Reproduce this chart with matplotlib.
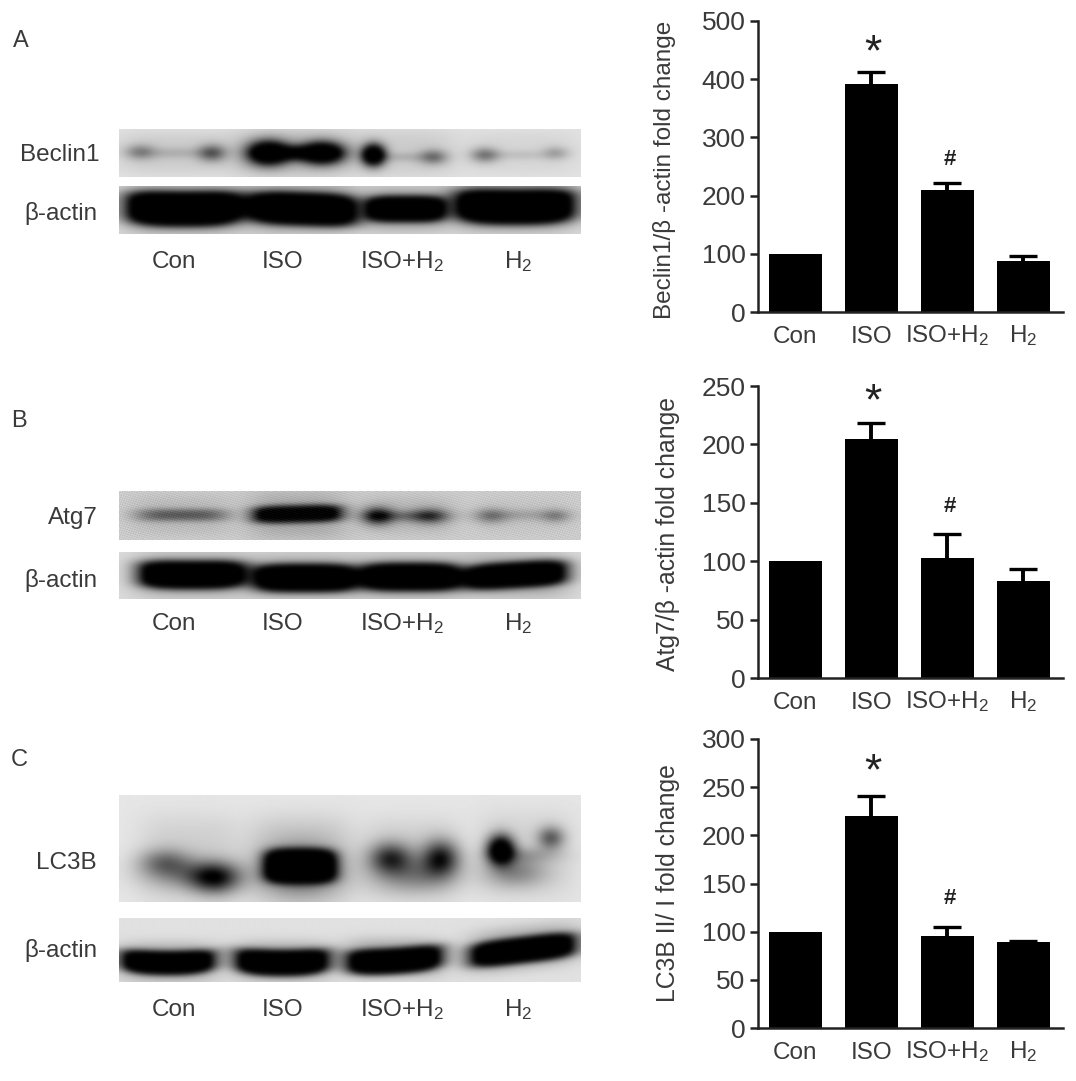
import numpy as np
import matplotlib
matplotlib.use('Agg')
import matplotlib.pyplot as plt

plt.rcParams['font.family'] = ['Liberation Sans', 'DejaVu Sans']
plt.rcParams['mathtext.fontset'] = 'custom'
plt.rcParams['mathtext.rm'] = 'Liberation Sans'
plt.rcParams['mathtext.default'] = 'regular'

W, H = 1076, 1081
INK = '#3a3a3a'

groups = ['Con', 'ISO', 'ISO+H$_2$', 'H$_2$']

beclin_mean = [100, 392, 210, 88]
beclin_err = [0, 21, 11, 8]
beclin_ticks = [0, 100, 200, 300, 400, 500]

atg7_mean = [100, 205, 103, 83]
atg7_err = [0, 13, 20, 10]
atg7_ticks = [0, 50, 100, 150, 200, 250]

lc3b_mean = [100, 220, 96, 89]
lc3b_err = [0, 21, 9, 1]
lc3b_ticks = [0, 50, 100, 150, 200, 250, 300]

# blot bands: cx, cy, half width, half height, darkness, edge power, tilt, bend
beclin_bands = [
    (175, 153, 60, 22, 0.10, 4, 0, 0), (295, 153, 62, 24, 0.18, 4, 0, 0),
    (405, 153, 50, 24, 0.10, 4, 0, 0), (520, 153, 60, 22, 0.06, 4, 0, 0),
    (140, 152, 15, 7, 0.36, 2, 0, 0), (212, 153, 14, 8, 0.55, 2, 0, 0),
    (175, 153, 32, 5, 0.15, 2, 0, 0), (268, 153, 20, 11, 1.7, 2, 0, 0),
    (322, 153, 21, 10, 1.7, 2, 0, 0), (295, 153, 22, 6, 0.8, 2, 0, 0),
    (373, 155, 11, 10, 1.7, 2, 0, 0), (433, 157, 14, 7, 0.45, 2, 0, 0),
    (402, 157, 26, 4, 0.15, 2, 0, 0), (484, 155, 14, 7, 0.45, 2, 0, 0),
    (555, 153, 13, 6, 0.25, 2, 0, 0), (520, 155, 30, 4, 0.12, 2, 0, 0),
]
actin_a_bands = [
    (184, 209, 60, 24, 0.35, 4, 0, 0), (303, 208, 56, 24, 0.35, 4, 0, 0),
    (405, 209, 42, 22, 0.30, 4, 0, 0), (514, 207, 62, 24, 0.35, 4, 0, 0),
    (184, 209, 56, 16, 1.8, 4, 0, -2), (303, 209, 52, 15, 1.8, 4, 2, 0),
    (405, 209, 37, 12, 1.8, 4, 0, 0), (514, 207, 58, 16, 1.8, 4, 0, -2),
]
atg7_bands = [
    (182, 515, 52, 20, 0.10, 4, 0, 0), (297, 515, 50, 24, 0.18, 4, 0, 0),
    (407, 515, 48, 20, 0.10, 4, 0, 0), (522, 515, 48, 20, 0.04, 4, 0, 0),
    (182, 515, 47, 6, 0.48, 4, 0, 0), (297, 514, 43, 8, 1.6, 4, -1, 0),
    (377, 516, 15, 8, 0.9, 2, 0, 0), (430, 516, 18, 7, 0.6, 2, 0, 0),
    (405, 516, 35, 5, 0.35, 2, 0, 0), (490, 516, 16, 7, 0.38, 2, 0, 0),
    (555, 516, 14, 6, 0.32, 2, 0, 0), (522, 515, 40, 5, 0.2, 2, 0, 0),
]
actin_b_bands = [
    (192, 575, 58, 23, 0.25, 4, 0, 0), (305, 577, 55, 23, 0.25, 4, 0, 0),
    (410, 577, 52, 23, 0.25, 4, 0, 0), (515, 575, 55, 23, 0.25, 4, 0, 0),
    (192, 575, 51, 13, 1.8, 4, 0, -1), (305, 578, 49, 13, 1.8, 4, 0, 0),
    (410, 577, 47, 13, 1.8, 4, 0, 0), (515, 575, 49, 12, 1.8, 4, -3, 0),
]
lc3b_bands = [
    (190, 860, 52, 45, 0.10, 4, 0, 0), (300, 860, 52, 45, 0.14, 4, 0, 0),
    (410, 860, 50, 42, 0.10, 4, 0, 0), (525, 855, 50, 45, 0.08, 4, 0, 0),
    (165, 862, 26, 13, 0.42, 2, 0, 0), (215, 878, 24, 15, 0.75, 2, 0, 0),
    (190, 875, 45, 14, 0.3, 2, 0, 0), (300, 870, 38, 25, 0.5, 2, 0, 0),
    (300, 866, 34, 16, 1.8, 4, 0, 0), (390, 858, 21, 15, 0.7, 2, 0, 0),
    (440, 858, 18, 17, 0.8, 2, 0, 0), (415, 875, 40, 17, 0.35, 2, 0, 0),
    (500, 850, 13, 14, 1.4, 2, 0, 0), (550, 838, 13, 11, 0.55, 2, 0, 0),
    (515, 872, 30, 15, 0.35, 2, 0, 0), (525, 855, 35, 8, 0.2, 2, 0, 0),
]
actin_c_bands = [
    (168, 962, 50, 20, 0.25, 4, 0, 0), (282, 961, 50, 20, 0.25, 4, 0, 0),
    (394, 958, 50, 20, 0.25, 4, 0, 0), (522, 948, 56, 22, 0.25, 4, -6, 0),
    (168, 963, 45, 11, 1.8, 4, 0, -3), (282, 963, 45, 12, 1.8, 4, 0, -3),
    (394, 961, 46, 12, 1.8, 4, -3, -2), (522, 950, 51, 12, 1.8, 4, -6, 0),
]


def px_rect(x0, y0, x1, y1):
    return [x0 / W, 1 - y1 / H, (x1 - x0) / W, (y1 - y0) / H]


def soften(img, sigma):
    # small gaussian blur, the scans are out of focus
    r = int(3 * sigma)
    k = np.exp(-0.5 * (np.arange(-r, r + 1) / sigma) ** 2)
    k /= k.sum()
    img = np.pad(img, r, mode='edge')
    img = np.apply_along_axis(lambda m: np.convolve(m, k, mode='same'), 0, img)
    img = np.apply_along_axis(lambda m: np.convolve(m, k, mode='same'), 1, img)
    return img[r:-r, r:-r]


def draw_blot(x0, y0, x1, y1, bands, bg=0.89, grain=0.0):
    xs, ys = np.meshgrid(np.arange(x0, x1) + 0.5, np.arange(y0, y1) + 0.5)
    dark = np.zeros_like(xs)
    for cx, cy, sx, sy, amp, p, tilt, bend in bands:
        u = (xs - cx) / sx
        v = (ys - cy - tilt * u - bend * u * u) / sy
        dark += amp * np.exp(-np.abs(u) ** p - np.abs(v) ** p)
    img = soften(bg * (1 - np.clip(dark, 0, 1)), 2.2)
    if grain:
        # film speckle on the noisy blot
        img += grain * np.sin(xs * 1.7 + ys * 2.3) * np.sin(xs * 0.9 - ys * 1.3)
    ax = fig.add_axes(px_rect(x0, y0, x1, y1))
    ax.imshow(np.clip(img, 0, 1), cmap='gray', vmin=0, vmax=1, aspect='auto', interpolation='bilinear')
    ax.axis('off')


def draw_label(x, y, s, **kw):
    kw.setdefault('color', INK)
    kw.setdefault('fontsize', 17.5)
    kw.setdefault('va', 'center')
    fig.text(x / W, 1 - y / H, s, **kw)


def draw_lanes(y):
    for x, s in zip([174, 283, 402, 518], groups):
        draw_label(x, y, s, ha='center', va='baseline')


def draw_bars(top, bottom, ymax, mean, err, ticks, ylabel, lab_size, lab_x, lab_y, star_y, hash_y):
    ax = fig.add_axes(px_rect(758, top, 1063, bottom))
    pos = np.arange(len(mean))
    ax.bar(pos, mean, width=0.70, color='black')
    # first group is the reference, it has no error bar
    eb = ax.errorbar(pos[1:], mean[1:], yerr=[np.zeros(3), err[1:]], fmt='none', ecolor='black',
                     elinewidth=2.8, capsize=10, capthick=2.4)
    eb[1][0].set_visible(False)
    ax.set_xlim(-0.493, 3.52)
    ax.set_ylim(0, ymax)
    ax.set_yticks(ticks)
    ax.set_xticks(pos)
    ax.set_xticklabels(groups, va='baseline')
    for s in ['top', 'right']:
        ax.spines[s].set_visible(False)
    for s in ['left', 'bottom']:
        ax.spines[s].set_linewidth(1.8)
        ax.spines[s].set_color('#222222')
    ax.tick_params(axis='y', length=6, width=1.8, color='#222222', labelsize=19, labelcolor=INK, pad=3)
    ax.tick_params(axis='x', length=0, labelsize=17.5, labelcolor=INK, pad=22)
    draw_label(lab_x, lab_y, ylabel, rotation=90, ha='center', fontsize=lab_size)
    draw_label(873, star_y, '*', ha='center', fontsize=32, color='#222222')
    draw_label(950, hash_y, '#', ha='center', fontsize=16, fontweight='bold', color='#222222')


fig = plt.figure(figsize=(W / 100, H / 100), dpi=100)

draw_blot(119, 129, 580, 177, beclin_bands)
draw_blot(119, 186, 580, 234, actin_a_bands, bg=0.86)
draw_blot(119, 491, 580, 540, atg7_bands, bg=0.80, grain=0.05)
draw_blot(119, 552, 580, 599, actin_b_bands, bg=0.86)
draw_blot(119, 795, 580, 902, lc3b_bands, bg=0.90)
draw_blot(119, 918, 580, 982, actin_c_bands, bg=0.88)

draw_label(13, 41, 'A', fontsize=17)
draw_label(11, 421, 'B', fontsize=17)
draw_label(11, 760, 'C', fontsize=17)

draw_label(100, 155, 'Beclin1', ha='right')
draw_label(98, 213, 'β-actin', ha='right')
draw_label(98, 518, 'Atg7', ha='right')
draw_label(98, 580, 'β-actin', ha='right')
draw_label(97, 863, 'LC3B', ha='right')
draw_label(98, 951, 'β-actin', ha='right')

draw_lanes(268)
draw_lanes(630)
draw_lanes(1016)

draw_bars(21, 312, 500, beclin_mean, beclin_err, beclin_ticks,
          'Beclin1/β -actin fold change', 17.5, 664, 170, 54, 159)
draw_bars(386, 678, 250, atg7_mean, atg7_err, atg7_ticks,
          'Atg7/β -actin fold change', 17.8, 668, 534, 403, 507)
draw_bars(739, 1028, 300, lc3b_mean, lc3b_err, lc3b_ticks,
          'LC3B II/ I fold change', 17.8, 668, 883, 773, 898)

fig.savefig('out.png', dpi=100)
